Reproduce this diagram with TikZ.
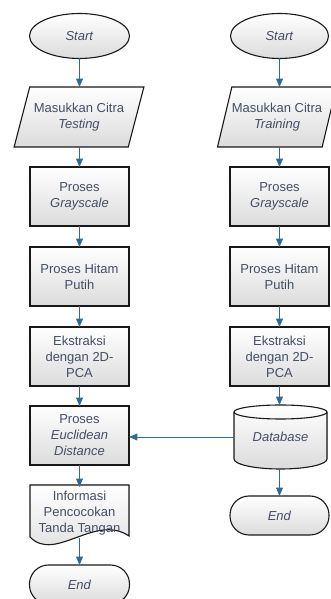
\documentclass[tikz,border=0pt]{standalone}
\usepackage{fontspec}
\setmainfont{Liberation Sans}
\usepackage{tikz}
\usetikzlibrary{arrows}
\usetikzlibrary{positioning}
\usetikzlibrary{shapes.geometric}
\definecolor{flowline}{RGB}{47,105,150}
\definecolor{flowtext}{RGB}{68,78,100}
\definecolor{outline}{RGB}{25,25,25}
\tikzstyle{base}=[x=1pt, y=1pt, inner sep=0pt, outer sep=0pt, font=\fontsize{13}{16}\selectfont]
\tikzstyle{bevel}=[draw=outline, line width=1.1pt, top color=white, middle color=white, bottom color=black!14]
\tikzstyle{startbox}=[bevel, ellipse, minimum width=100pt, minimum height=45pt, text=flowtext]
\tikzstyle{inputbox}=[bevel, trapezium, trapezium left angle=63, trapezium right angle=117, trapezium stretches=true, minimum height=60pt, text=flowtext, align=center]
\tikzstyle{procbox}=[bevel, rectangle, minimum width=99pt, minimum height=59pt, text=flowtext, align=center]
\tikzstyle{endbox}=[bevel, rectangle, rounded corners=19pt, minimum width=99pt, minimum height=39pt, text=flowtext]
\tikzstyle{textbox}=[rectangle, text=flowtext, align=center]
\tikzstyle{arrowline}=[flowline, line width=0.9pt, -triangle 45]

\begin{document}
\begin{tikzpicture}[base]
    \useasboundingbox (0,0) rectangle (330,599);
        \filldraw [bevel] (30,114) -- (129,114) -- (129,63) .. controls (95,86) and (55,36) .. (30,62) -- cycle;
        \filldraw [bevel] (234,187) -- (234,140) arc[start angle=180, end angle=360, x radius=46.5, y radius=10] -- (327,187) arc[start angle=0, end angle=180, x radius=46.5, y radius=7] -- cycle;
        \draw [outline, line width=1.1pt] (234,187) arc[start angle=180, end angle=360, x radius=46.5, y radius=7];
        \node [startbox] (startL) at (79.5,563) {\textit{Start}};
        \node [startbox, minimum width=98pt] (startR) at (279.5,563) {\textit{Start}};
        \node [inputbox, minimum width=130pt] (inL) at (79,482) {Masukkan Citra\\\textit{Testing}};
        \node [inputbox, minimum width=118pt] (inR) at (277,482) {Masukkan Citra\\\textit{Training}};
        \node [procbox] (grayL) at (79.5,402.5) {Proses\\\textit{Grayscale}};
        \node [procbox] (grayR) at (279.5,402.5) {Proses\\\textit{Grayscale}};
        \node [procbox] (bwL) at (79.5,322.5) {Proses Hitam\\Putih};
        \node [procbox] (bwR) at (279.5,322.5) {Proses Hitam\\Putih};
        \node [procbox] (pcaL) at (79.5,242.5) {Ekstraksi\\dengan 2D-\\PCA};
        \node [procbox] (pcaR) at (279.5,242.5) {Ekstraksi\\dengan 2D-\\PCA};
        \node [procbox] (euc) at (79.5,163.5) {Proses\\\textit{Euclidean}\\\textit{Distance}};
        \node [textbox, minimum width=93pt, minimum height=64pt] (db) at (280.5,162) {\textit{Database}};
        \node [textbox, minimum width=99pt, minimum height=52pt] (info) at (79.5,86) {Informasi\\Pencocokan\\Tanda Tangan};
        \coordinate (infoend) at (79.5,61);
        \node [endbox] (endR) at (279.5,83.5) {\textit{End}};
        \node [endbox, minimum width=100pt] (endL) at (79.5,14.5) {\textit{End}};
        \draw [arrowline] (startL.south) -- (startL.south |- inL.north);
        \draw [arrowline] (startR.south) -- (startR.south |- inR.north);
        \draw [arrowline] (inL.south -| grayL.north) -- (grayL.north);
        \draw [arrowline] (inR.south -| grayR.north) -- (grayR.north);
        \draw [arrowline] (grayL) -- (bwL);
        \draw [arrowline] (grayR) -- (bwR);
        \draw [arrowline] (bwL) -- (pcaL);
        \draw [arrowline] (bwR) -- (pcaR);
        \draw [arrowline] (pcaL) -- (euc);
        \draw [arrowline] (pcaR.south) -- (pcaR.south |- db.north);
        \draw [arrowline] (db.west) -- (db.west -| euc.east);
        \draw [arrowline] (euc.south) -- (euc.south |- info.north);
        \draw [arrowline] (db.south -| endR.north) -- (endR.north);
        \draw [arrowline] (infoend) -- (endL.north);
    \end{tikzpicture}
\end{document}
